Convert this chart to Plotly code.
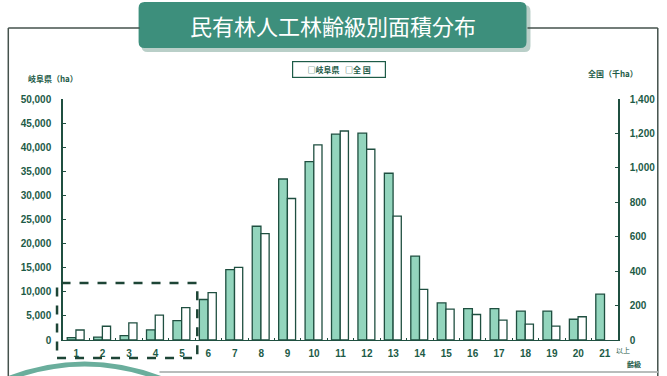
import plotly.graph_objects as go

# ---- data ----
age_classes = ["1", "2", "3", "4", "5", "6", "7", "8", "9", "10", "11",
               "12", "13", "14", "15", "16", "17", "18", "19", "20", "21"]
gifu_ha = [500, 600, 900, 2100, 4000, 8400, 14600, 23600, 33400, 37000, 42700,
           42900, 34600, 17400, 7700, 6500, 6500, 6000, 6000, 4300, 9500]
national_kha = [58, 80, 100, 144, 188, 275, 422, 618, 822, 1133, 1214,
                1108, 720, 294, 179, 148, 115, 92, 81, 135, None]
left_ticks = [0, 5000, 10000, 15000, 20000, 25000, 30000, 35000, 40000, 45000, 50000]
right_ticks = [0, 200, 400, 600, 800, 1000, 1200, 1400]

TITLE = "民有林人工林齢級別面積分布"
NAME_GIFU = "岐阜県"
NAME_NAT = "全 国"

# ---- layout geometry ----
W, H = 667, 376
L, R, T, B = 63, 46, 99, 36
PW, PH = W - L - R, H - T - B

def xp(px):
    return (px - L) / PW

def yp(py):
    return (H - B - py) / PH

DARK = "#1d5b47"
LINE = "#1f4f40"
TEAL = "#3d8f7c"
GREEN_FILL = "#93d5bd"
FONT_NUM = "Liberation Sans"
FONT_JP = "Noto Sans CJK JP"

fig = go.Figure()
fig.add_trace(go.Bar(
    x=age_classes, y=gifu_ha, name=NAME_GIFU, yaxis="y",
    width=0.33, offset=-0.34,
    marker=dict(color=GREEN_FILL, line=dict(color=LINE, width=1.3)),
))
fig.add_trace(go.Bar(
    x=age_classes, y=national_kha, name=NAME_NAT, yaxis="y2",
    width=0.31, offset=-0.01,
    marker=dict(color="white", line=dict(color=LINE, width=1.3)),
))

tickfont = dict(family=FONT_NUM, size=10, color=DARK, weight="bold")

fig.update_layout(
    width=W, height=H,
    margin=dict(l=L, r=R, t=T, b=B, pad=0),
    paper_bgcolor="white", plot_bgcolor="white",
    showlegend=False,
    xaxis=dict(
        type="category", showgrid=False, showline=True, linecolor=LINE, linewidth=1.2,
        ticks="inside", ticklen=2, tickcolor=LINE, tickson="boundaries",
        tickfont=dict(family=FONT_NUM, size=10, color=DARK, weight="bold"),
        ticklabelstandoff=4,
        range=[-0.5, 20.5], fixedrange=True,
    ),
    yaxis=dict(
        range=[0, 50000], tickvals=left_ticks, tickformat=",",
        showgrid=False, zeroline=False, showline=True, linecolor=LINE, linewidth=1.5,
        ticks="inside", ticklen=3, tickcolor=LINE, tickfont=tickfont,
        ticklabelstandoff=8,
    ),
    yaxis2=dict(
        range=[0, 1400], tickvals=right_ticks, tickformat=",", overlaying="y", side="right",
        showgrid=False, zeroline=False, showline=True, linecolor=LINE, linewidth=1.5,
        ticks="inside", ticklen=3, tickcolor=LINE, tickfont=tickfont,
        ticklabelstandoff=8,
    ),
)

shapes = []
# outer frame
frame = dict(type="line", xref="paper", yref="paper", line=dict(color="#44524c", width=1.5))
shapes.append({**frame, "x0": xp(8), "x1": xp(140), "y0": yp(28), "y1": yp(28)})
shapes.append({**frame, "x0": xp(530), "x1": xp(661), "y0": yp(28), "y1": yp(28)})
shapes.append({**frame, "x0": xp(8), "x1": xp(8), "y0": yp(28), "y1": yp(380)})
shapes.append({**frame, "x0": xp(661), "x1": xp(661), "y0": yp(28), "y1": yp(380)})

# title box (shadow + box)
def rounded_rect(x0, y0, x1, y1, r):
    return (f"M {xp(x0+r)},{yp(y0)} L {xp(x1-r)},{yp(y0)} Q {xp(x1)},{yp(y0)} {xp(x1)},{yp(y0+r)} "
            f"L {xp(x1)},{yp(y1-r)} Q {xp(x1)},{yp(y1)} {xp(x1-r)},{yp(y1)} "
            f"L {xp(x0+r)},{yp(y1)} Q {xp(x0)},{yp(y1)} {xp(x0)},{yp(y1-r)} "
            f"L {xp(x0)},{yp(y0+r)} Q {xp(x0)},{yp(y0)} {xp(x0+r)},{yp(y0)} Z")

shapes.append(dict(type="path", xref="paper", yref="paper", path=rounded_rect(142, 5, 533, 52, 6),
                   fillcolor="#b9cfc8", line=dict(width=0), layer="below"))
shapes.append(dict(type="path", xref="paper", yref="paper", path=rounded_rect(139, 2, 529, 48, 6),
                   fillcolor=TEAL, line=dict(width=0), layer="below"))

# dashed highlight box around classes 1-5
shapes.append(dict(type="rect", xref="paper", yref="paper",
                   x0=xp(57), x1=xp(198), y0=yp(358), y1=yp(283),
                   line=dict(color="#1d4536", width=2.5, dash="dash")))

# decorative bottom arc and line
shapes.append(dict(type="path", xref="paper", yref="paper",
                   path=f"M {xp(-5)},{yp(384)} Q {xp(80)},{yp(346)} {xp(165)},{yp(380)}",
                   line=dict(color="#6aae9c", width=5)))
shapes.append(dict(type="line", xref="paper", yref="paper",
                   x0=xp(160), x1=xp(661), y0=yp(372), y1=yp(372),
                   line=dict(color="#b8bcbb", width=2)))

fig.update_layout(shapes=shapes)

def ann(text, x, y, size, weight="bold", color=DARK, **kw):
    return dict(text=text, x=xp(x), y=yp(y), xref="paper", yref="paper",
                xanchor="center", yanchor="middle", showarrow=False,
                font=dict(family=FONT_JP, size=size, color=color, weight=weight), **kw)

annotations = [
    ann(TITLE, 334, 25, 22, weight="normal", color="white"),
    ann("□" + NAME_GIFU + "   □" + NAME_NAT, 340, 69, 8,
        bordercolor=DARK, borderwidth=1.2, borderpad=2, bgcolor="white", width=88),
    ann("岐阜県（ha）", 53, 78, 8),
    ann("全国（千ha）", 616, 74, 8),
    ann("以上", 626, 350, 7, weight="normal"),
    ann("齢級", 637, 364, 7),
]
fig.update_layout(annotations=annotations)

fig.write_html("out.html")
